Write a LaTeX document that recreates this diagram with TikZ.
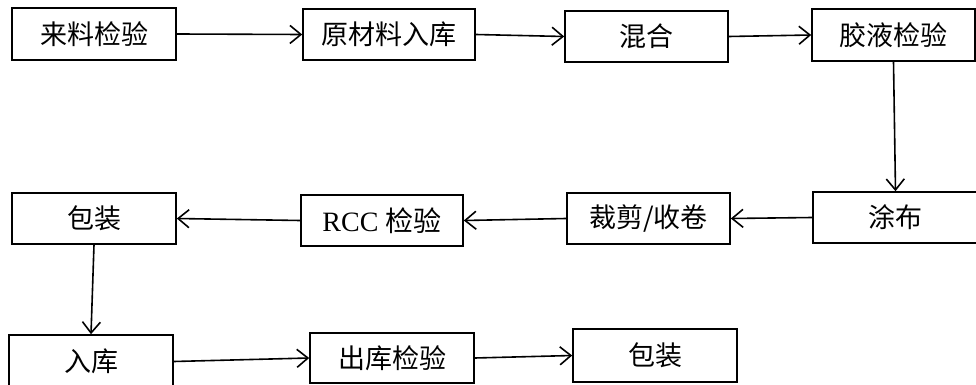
\documentclass[tikz,border=0pt]{standalone}
\usepackage{fontspec}
\setmainfont{Liberation Serif}
\newfontfamily\cjk{Noto Sans CJK SC}
\usetikzlibrary{arrows.meta}
\tikzset{
  stepbox/.style={draw=black, line width=1.6pt, inner sep=0pt, align=center,
    minimum width=164pt, minimum height=51pt, font=\fontsize{27}{32}\selectfont\cjk},
  flow/.style={draw=black, line width=1.6pt, -{Straight Barb[length=11pt,width=18pt,line width=1.6pt]}}
}
\begin{document}
\begin{tikzpicture}[x=1pt,y=-1pt]
\useasboundingbox (0,0) rectangle (976,385);
\node[stepbox, minimum width=164pt, minimum height=52pt] (a) at (94,34) {来料检验};
\node[stepbox, minimum width=172pt] (b) at (389,34.5) {原材料入库};
\node[stepbox, minimum width=163pt] (c) at (646.5,36.5) {混合};
\node[stepbox, minimum width=163pt, minimum height=52pt] (d) at (893.5,35) {胶液检验};
\node[stepbox, minimum width=165pt] (e) at (895.5,217.5) {涂布};
\node[stepbox, minimum width=163pt] (f) at (648.5,218.5) {裁剪/收卷};
\node[stepbox, minimum width=162pt] (g) at (382,220.5) {\rmfamily\fontsize{28}{32}\selectfont RCC {\cjk 检验}};
\node[stepbox] (h) at (94,218.5) {包装};
\node[stepbox, minimum height=53pt] (i) at (91,361.5) {入库};
\node[stepbox, minimum height=50pt] (j) at (392,358) {出库检验};
\node[stepbox, minimum height=53pt] (k) at (655,355.5) {包装};
\draw[flow] (a.east) -- (b.west);
\draw[flow] (b.east) -- (c.west);
\draw[flow] (c.east) -- (d.west);
\draw[flow] (d.south) -- (e.north);
\draw[flow] (e.west) -- (f.east);
\draw[flow] (f.west) -- (g.east);
\draw[flow] (g.west) -- (h.east);
\draw[flow] (h.south) -- (i.north);
\draw[flow] (i.east) -- (j.west);
\draw[flow] (j.east) -- (k.west);
\end{tikzpicture}
\end{document}
